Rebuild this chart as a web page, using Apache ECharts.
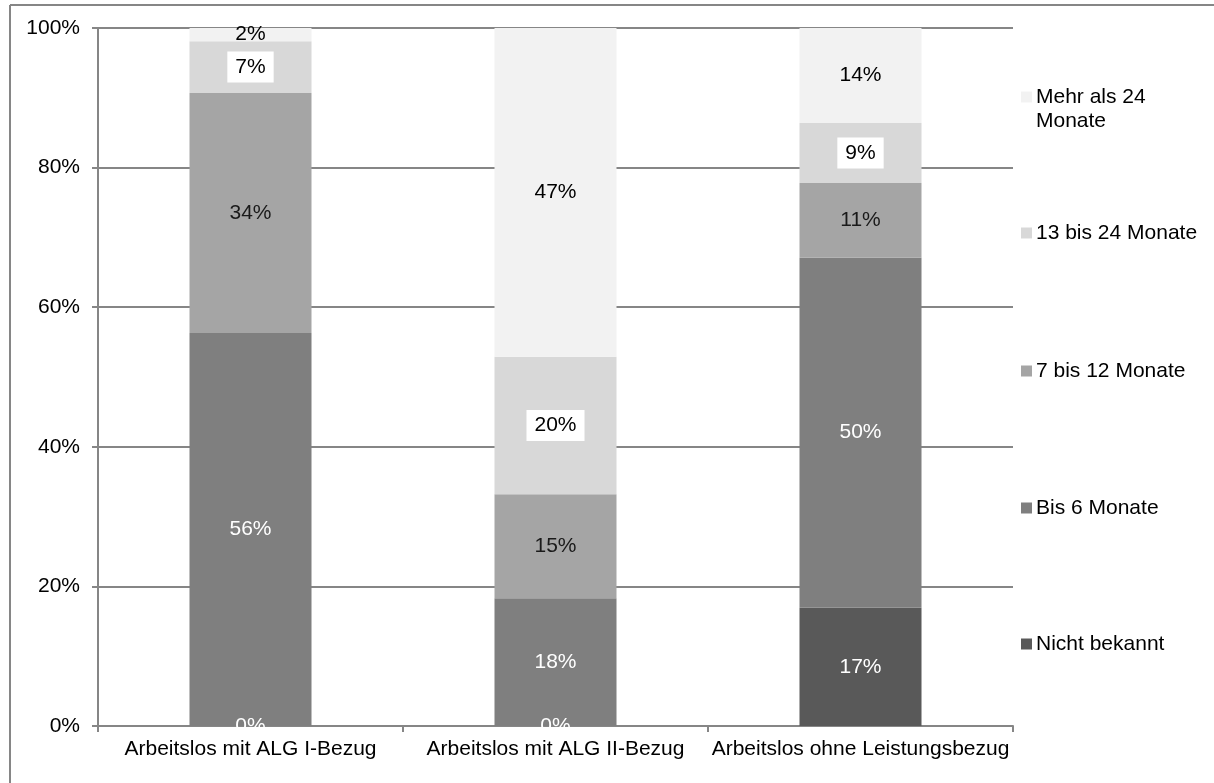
<!DOCTYPE html>
<html><head><meta charset="utf-8">
<script src="https://cdn.jsdelivr.net/npm/echarts@6/dist/echarts.min.js"></script>
<style>html,body{margin:0;padding:0;background:#fff}#c{width:1214px;height:783px}</style>
</head><body><div id="c"></div>
<script>
const categories = ['Arbeitslos mit ALG I-Bezug', 'Arbeitslos mit ALG II-Bezug', 'Arbeitslos ohne Leistungsbezug'];
const seriesNames = ['Nicht bekannt', 'Bis 6 Monate', '7 bis 12 Monate', '13 bis 24 Monate', 'Mehr als 24 Monate'];
const nichtBekannt = [0, 0, 16.95];
const bis6 = [56.3, 18.3, 50.15];
const m7bis12 = [34.4, 14.9, 10.7];
const m13bis24 = [7.4, 19.7, 8.6];
const mehr24 = [1.9, 47.1, 13.6];
const yTicks = [0, 20, 40, 60, 80, 100];

const colors = ['#595959', '#7f7f7f', '#a5a5a5', '#d8d8d8', '#f2f2f2'];
const labelColors = ['#ffffff', '#ffffff', '#1a1a1a', '#000000', '#000000'];
const allData = [nichtBekannt, bis6, m7bis12, m13bis24, mehr24];
const font = 'Liberation Sans, Arial, sans-serif';
const FS = 21;

const series = seriesNames.map((name, i) => ({
  name: name,
  type: 'bar',
  stack: 'total',
  barWidth: '40%',
  data: allData[i],
  itemStyle: { color: colors[i] },
  label: {
    show: true,
    position: 'inside',
    color: labelColors[i],
    fontFamily: font,
    fontSize: FS,
    backgroundColor: i === 3 ? '#ffffff' : 'transparent',
    padding: i === 3 ? [6, 8, 4, 8] : 0,
    formatter: p => Math.round(p.value) + '%'
  },
  emphasis: { disabled: true }
}));

const legendCenters = [644, 508, 371, 233, 97];
const legends = seriesNames.map((n, i) => ({
  data: [n],
  left: 1021,
  top: legendCenters[i] - 12,
  orient: 'vertical',
  itemWidth: 11,
  itemHeight: 11,
  itemGap: 0,
  padding: 0,
  icon: 'rect',
  formatter: v => v === 'Mehr als 24 Monate' ? 'Mehr als 24' : v,
  textStyle: { fontFamily: font, fontSize: FS, color: '#000', lineHeight: 24, padding: [0, 0, 0, -1] },
  selectedMode: false
}));

const chart = echarts.init(document.getElementById('c'), null, { renderer: 'canvas' });
chart.setOption({
  animation: false,
  backgroundColor: '#fff',
  grid: { left: 98, top: 28, right: 201, bottom: 57, containLabel: false },
  legend: legends,
  xAxis: {
    type: 'category',
    data: categories,
    axisLine: { lineStyle: { color: '#868686', width: 2 } },
    axisTick: { show: true, alignWithLabel: false, length: 6, lineStyle: { color: '#868686', width: 2 } },
    axisLabel: { fontFamily: font, fontSize: FS, color: '#000', margin: 13, interval: 0 }
  },
  yAxis: {
    type: 'value',
    min: yTicks[0],
    max: yTicks[yTicks.length - 1],
    interval: 20,
    axisLine: { show: true, lineStyle: { color: '#868686', width: 2 } },
    axisTick: { show: true, length: 6, lineStyle: { color: '#868686', width: 2 } },
    axisLabel: { fontFamily: font, fontSize: FS, color: '#000', margin: 18, formatter: v => v + '%' },
    splitLine: { show: true, lineStyle: { color: '#868686', width: 2 } }
  },
  series: series,
  graphic: [
    { type: 'line', shape: { x1: 10, y1: 5, x2: 1214, y2: 5 }, style: { stroke: '#868686', lineWidth: 2 } },
    { type: 'line', shape: { x1: 10, y1: 5, x2: 10, y2: 783 }, style: { stroke: '#868686', lineWidth: 2 } },
    { type: 'text', left: 1036, top: 111, style: { text: 'Monate', fontFamily: font, fontSize: FS, fill: '#000' } }
  ]
});
</script></body></html>
